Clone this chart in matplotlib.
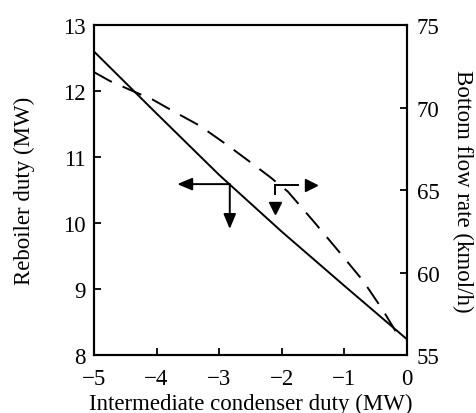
import numpy as np
import matplotlib
matplotlib.use('Agg')
import matplotlib.pyplot as plt

# reboiler duty (solid, left axis)
duty_x = [-5, -4, -3, -2, -1, 0]
reboiler = [12.6, 11.66, 10.73, 9.87, 9.05, 8.24]

# bottom flow rate (dashed, right axis)
flow_x = [-5, -4.74, -4.38, -4.07, -3.79, -3.31, -2.86, -2.54, -2.19, -1.9, -1.49, -1.07, -0.7, -0.38, -0.11]
flow = [72.15, 71.6, 71.0, 70.5, 69.9, 68.9, 67.7, 66.8, 65.8, 64.9, 63.1, 61.2, 59.5, 57.7, 56.0]

x_ticks = [-5, -4, -3, -2, -1, 0]
left_ticks = [8, 9, 10, 11, 12, 13]
right_ticks = [55, 60, 65, 70, 75]

plt.rcParams['font.family'] = ['Liberation Serif', 'DejaVu Serif']
plt.rcParams['font.size'] = 16.5

fig = plt.figure(figsize=(4.77, 4.14), dpi=100)
ax = fig.add_axes([0.197, 0.140, 0.656, 0.797])
ax2 = ax.twinx()

ax.plot(duty_x, reboiler, color='black', lw=1.4)
ax2.plot(flow_x, flow, color='black', lw=1.4, dashes=(10.5, 6))

ax.set_xlim(-5, 0)
ax.set_ylim(8, 13)
ax2.set_ylim(55, 75)
ax.set_xticks(x_ticks)
ax.set_yticks(left_ticks)
ax2.set_yticks(right_ticks)

for a in (ax, ax2):
    for s in a.spines.values():
        s.set_linewidth(1.5)
ax.tick_params(axis='both', direction='in', length=5, width=1.3, pad=9)
ax.tick_params(axis='y', pad=6)
ax2.tick_params(axis='y', direction='in', length=5, width=1.3, pad=7)

ax.set_xlabel('Intermediate condenser duty (MW)', labelpad=3)
ax.set_ylabel('Reboiler duty (MW)', labelpad=20)
ax2.set_ylabel('Bottom flow rate (kmol/h)', rotation=-90, labelpad=24)

# arrows: solid line -> left axis
head = dict(arrowstyle='-|>,head_length=0.6,head_width=0.25', lw=1.4, color='black',
            mutation_scale=15, shrinkA=0, shrinkB=0)
jx, jy = -2.83, 10.59
ax.annotate('', xy=(-3.67, jy), xytext=(jx, jy), arrowprops=head)
ax.annotate('', xy=(jx, 9.91), xytext=(jx, jy), arrowprops=head)

# arrows: dashed line -> right axis (heads detached)
kx, ky = -2.11, 10.58
ax.plot([kx, -1.74], [ky, ky], color='black', lw=1.4)
ax.plot([kx, kx], [ky, 10.44], color='black', lw=1.4)
ax.plot([-1.53], [ky], marker='>', color='black', ms=8)
ax.plot([kx], [10.23], marker='v', color='black', ms=8)

fig.savefig('out.png', dpi=100)
